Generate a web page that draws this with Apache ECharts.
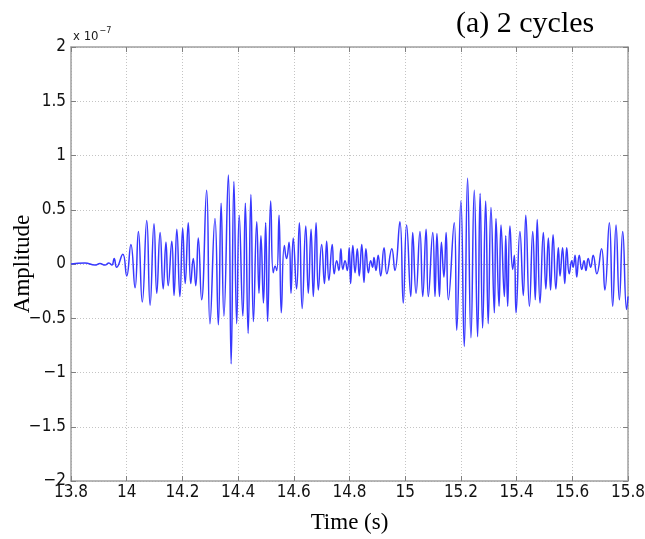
<!DOCTYPE html>
<html>
<head>
<meta charset="utf-8">
<script src="https://cdn.jsdelivr.net/npm/echarts@6/dist/echarts.min.js"></script>
<style>html,body{margin:0;padding:0;background:#fff}#c{width:645px;height:539px}</style>
</head>
<body>
<div id="c"></div>
<script>
// Time (s) of each read-off extremum / sample
var time_s = [
13.800,13.850,13.886,13.904,13.922,13.936,13.947,13.955,13.964,13.986,
14.000,14.015,14.030,14.042,14.056,14.072,14.084,14.098,14.108,14.120,
14.131,14.141,14.149,14.162,14.170,14.180,14.191,14.201,14.210,14.221,
14.230,14.239,14.248,14.257,14.269,14.287,14.299,14.317,14.329,14.339,
14.349,14.365,14.375,14.385,14.395,14.404,14.417,14.426,14.436,14.446,
14.455,14.467,14.475,14.482,14.491,14.499,14.506,14.517,14.526,14.533,
14.539,14.547,14.555,14.566,14.574,14.583,14.590,14.598,14.610,14.620,
14.630,14.643,14.652,14.662,14.670,14.680,14.688,14.700,14.710,14.718,
14.726,14.738,14.745,14.754,14.762,14.769,14.776,14.784,14.792,14.799,
14.804,14.812,14.820,14.828,14.835,14.844,14.852,14.859,14.868,14.876,
14.883,14.888,14.895,14.903,14.912,14.924,14.934,14.952,14.963,14.981,
14.993,15.005,15.020,15.027,15.039,15.053,15.063,15.075,15.083,15.099,
15.107,15.114,15.123,15.130,15.139,15.147,15.155,15.176,15.185,15.200,
15.212,15.224,15.236,15.248,15.260,15.269,15.278,15.289,15.298,15.308,
15.320,15.326,15.337,15.344,15.356,15.361,15.368,15.376,15.386,15.392,
15.398,15.412,15.424,15.433,15.446,15.458,15.467,15.474,15.484,15.496,
15.505,15.514,15.522,15.531,15.541,15.550,15.556,15.565,15.573,15.580,
15.589,15.598,15.603,15.610,15.616,15.625,15.634,15.642,15.649,15.657,
15.666,15.675,15.688,15.705,15.717,15.733,15.745,15.757,15.769,15.781,
15.795,15.800
];
// Amplitude in units of 1e-7
var amplitude_e7 = [
0.00,0.01,-0.01,0.005,-0.01,0.01,-0.01,0.05,-0.03,0.09,
-0.11,0.18,-0.22,0.30,-0.35,0.40,-0.38,0.37,-0.27,0.29,
-0.23,0.20,-0.20,0.21,-0.29,0.32,-0.30,0.33,-0.18,0.38,
-0.18,0.05,-0.20,0.24,-0.33,0.68,-0.55,0.42,-0.56,0.56,
-0.48,0.82,-0.92,0.76,-0.55,0.45,-0.48,0.56,-0.64,0.64,
-0.53,0.39,-0.27,0.26,-0.36,0.38,-0.53,0.58,-0.08,-0.02,
-0.06,0.45,-0.45,0.17,0.05,0.20,-0.27,0.24,-0.23,0.38,
-0.41,0.35,-0.27,0.32,-0.30,0.38,-0.24,0.18,-0.18,0.21,
-0.15,0.18,-0.09,0.03,-0.06,0.14,-0.05,0.03,-0.06,0.15,
-0.18,0.17,-0.08,0.14,-0.11,0.18,-0.17,0.14,-0.08,0.03,
-0.03,0.06,-0.06,0.08,-0.11,0.15,-0.09,0.14,-0.06,0.39,
-0.36,0.36,-0.30,0.29,-0.27,0.30,-0.30,0.32,-0.30,0.29,
-0.30,0.28,-0.30,0.20,-0.12,0.29,-0.33,0.38,-0.61,0.58,
-0.76,0.79,-0.68,0.68,-0.67,0.65,-0.59,0.58,-0.55,0.52,
-0.45,0.42,-0.39,0.36,-0.30,0.26,-0.39,0.35,-0.05,0.08,
-0.45,0.30,-0.29,0.45,-0.39,0.30,-0.33,0.41,-0.36,0.29,
-0.23,0.24,-0.24,0.27,-0.23,0.15,-0.11,0.15,-0.18,0.15,
-0.09,0.03,-0.03,0.08,-0.12,0.08,-0.05,0.03,-0.06,0.05,
-0.03,0.08,-0.09,0.14,-0.24,0.38,-0.39,0.36,-0.33,0.30,
-0.42,-0.30
];
var xTicks = [13.8,14,14.2,14.4,14.6,14.8,15,15.2,15.4,15.6,15.8];
var yTicks = [-2,-1.5,-1,-0.5,0,0.5,1,1.5,2];

var data = time_s.map(function(t,i){return [t, amplitude_e7[i]];});
var tickFont = "'Liberation Sans Narrow','DejaVu Sans Condensed',sans-serif";
var serifFont = "'Liberation Serif','Times New Roman',serif";
function fmtX(v){ return String(Math.round(v*10)/10); }
function fmtY(v){ var r=Math.round(v*10)/10; return (r<0?'\u2212':'')+String(Math.abs(r)); }

var axisLineStyle = {color:'#a0a0a0', width:1.5};
var tickStyle = {show:true, inside:true, length:5, lineStyle:{color:'#808080', width:1}};
var gridLine = {show:true, lineStyle:{color:'#c4c4c4', type:[1,2], width:1}};

var chart = echarts.init(document.getElementById('c'), null, {renderer:'canvas'});
chart.setOption({
  animation:false,
  backgroundColor:'#ffffff',
  grid:{left:71, right:17, top:47, bottom:58, containLabel:false, outerBoundsMode:'none'},
  xAxis:[{
    type:'value', min:xTicks[0], max:xTicks[xTicks.length-1], interval:0.2,
    axisLine:{show:true, onZero:false, lineStyle:axisLineStyle},
    axisTick:tickStyle, splitLine:gridLine,
    axisLabel:{formatter:fmtX, margin:3, fontFamily:tickFont, fontSize:17, color:'#111'},
    name:'Time (s)', nameLocation:'middle', nameGap:30,
    nameTextStyle:{fontFamily:serifFont, fontSize:23, color:'#000'}
  },{
    type:'value', position:'top', min:xTicks[0], max:xTicks[xTicks.length-1], interval:0.2,
    axisLine:{show:true, onZero:false, lineStyle:axisLineStyle},
    axisTick:tickStyle, splitLine:{show:false}, axisLabel:{show:false}
  }],
  yAxis:[{
    type:'value', min:yTicks[0], max:yTicks[yTicks.length-1], interval:0.5,
    axisLine:{show:true, onZero:false, lineStyle:axisLineStyle},
    axisTick:tickStyle, splitLine:gridLine,
    axisLabel:{formatter:fmtY, margin:5, fontFamily:tickFont, fontSize:17, color:'#111'}
  },{
    type:'value', position:'right', min:yTicks[0], max:yTicks[yTicks.length-1], interval:0.5,
    axisLine:{show:true, onZero:false, lineStyle:axisLineStyle},
    axisTick:tickStyle, splitLine:{show:false}, axisLabel:{show:false}
  }],
  series:[{
    type:'line', xAxisIndex:0, yAxisIndex:0, data:data,
    showSymbol:false, smooth:0.5,
    lineStyle:{color:'#3838ff', width:1.5}
  }],
  graphic:[
    {type:'text', left:456, top:9, style:{text:'(a) 2 cycles', font:"30px " + serifFont, fill:'#000'}},
    {type:'text', x:23, y:264, rotation:Math.PI/2, style:{text:'Amplitude', font:"23px " + serifFont, fill:'#000', align:'center', verticalAlign:'middle'}},
    {type:'text', left:73, top:26, style:{
      text:'{b|x 10}{s|\u22127}',
      rich:{b:{fontFamily:tickFont, fontSize:13, fill:'#1a1a1a', verticalAlign:'bottom'},
            s:{fontFamily:tickFont, fontSize:9, fill:'#1a1a1a', verticalAlign:'top', padding:[0,0,8,1]}}
    }}
  ]
});
</script>
</body>
</html>
